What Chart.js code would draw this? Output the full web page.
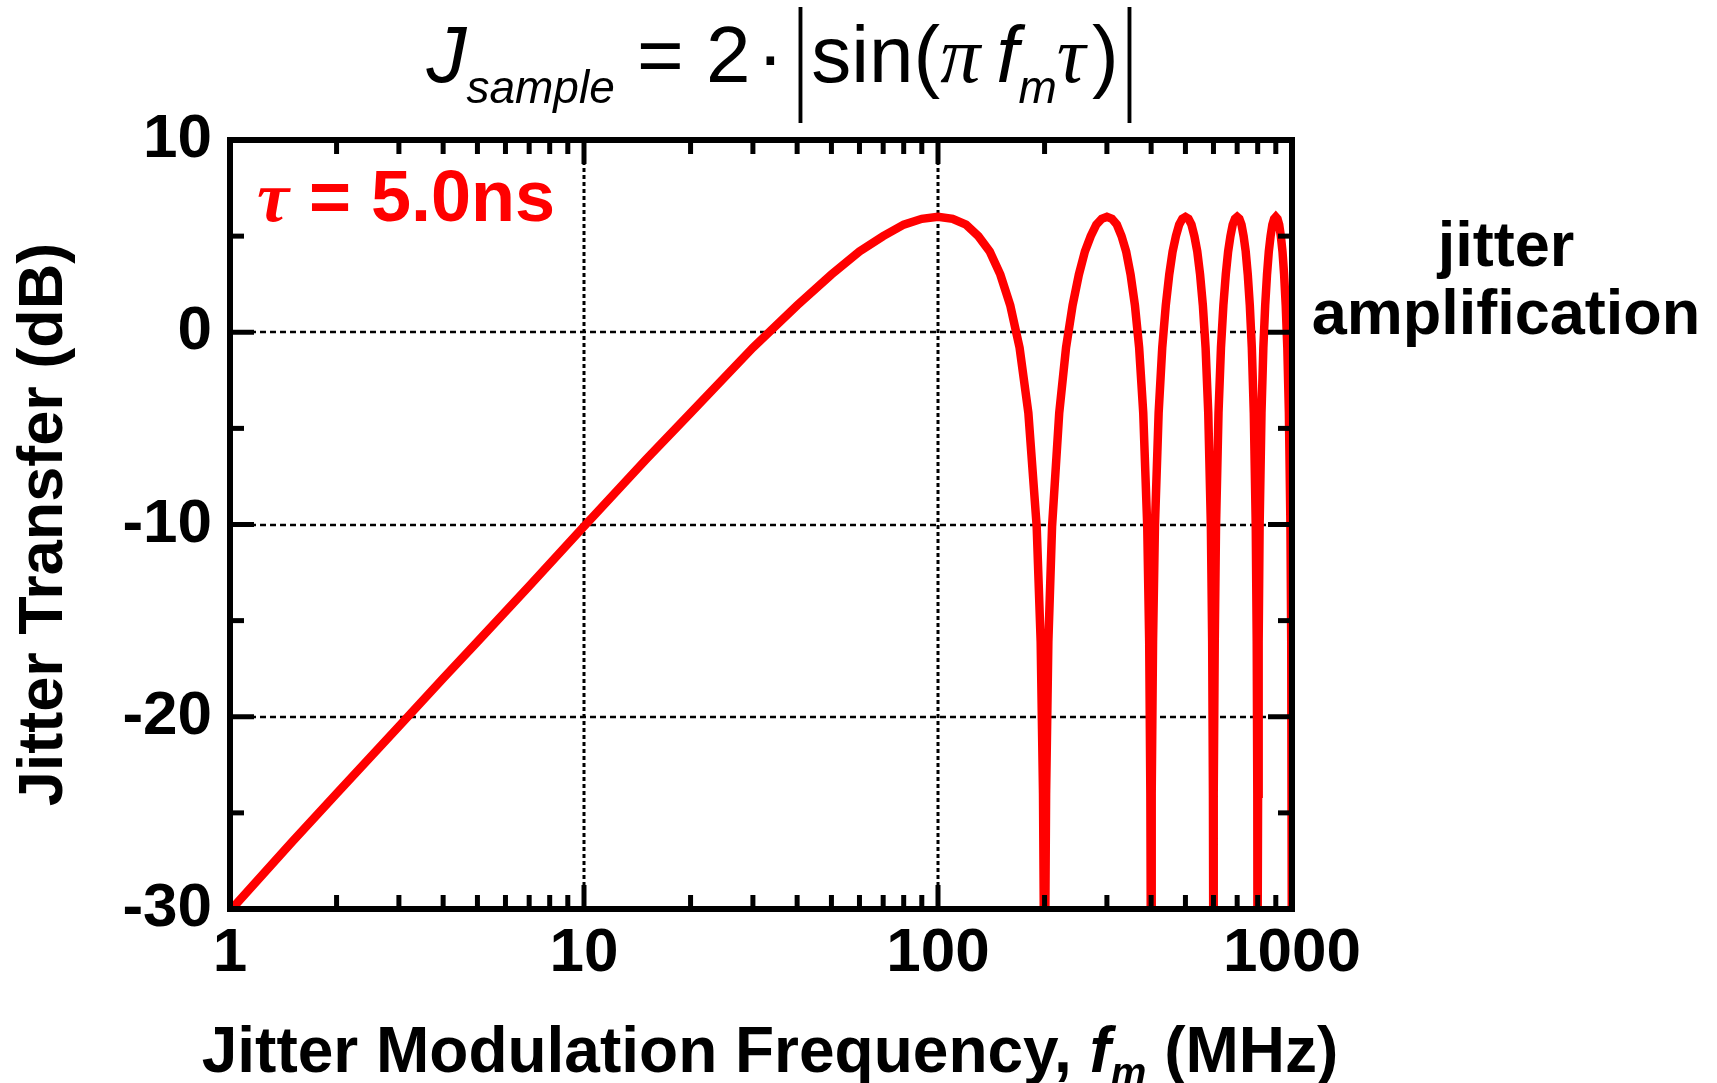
<!DOCTYPE html>
<html>
<head>
<meta charset="utf-8">
<script src="https://cdn.jsdelivr.net/npm/chart.js@4.4.1/dist/chart.umd.min.js"></script>
<style>
  body { margin: 0; background: #fff; }
  #wrap { position: relative; width: 1717px; height: 1083px; font-family: "Liberation Sans", Arial, sans-serif; }
  #c { position: absolute; left: 0; top: 0; }
  .lbl { position: absolute; white-space: nowrap; line-height: 1; }
  .greek { font-family: "Liberation Serif", "Times New Roman", serif; font-style: italic; }
  #formula { left: 0; width: 1566px; text-align: center; top: 15px; font-size: 80px; }
  #formula sub { font-size: 46px; font-style: italic; vertical-align: -0.45em; }
  .bar { display: inline-block; transform: scale(0.6, 1.55); }
  #xtitle { left: 0; width: 1540px; text-align: center; top: 1018px; font-size: 64px; font-weight: bold; }
  #xtitle sub { font-size: 40px; font-style: italic; vertical-align: -0.35em; }
  #tau { left: 257px; top: 160px; font-size: 72px; font-weight: bold; color: #ff0000; }
  #amp { left: 1306px; width: 400px; text-align: center; top: 210px; font-size: 63px; font-weight: bold; line-height: 68px; }
</style>
</head>
<body>
<div id="wrap">
  <canvas id="c" width="1717" height="1083"></canvas>
  <div class="lbl" id="formula"><i>J</i><sub>sample</sub> = 2&#8202;·&#8202;<span class="bar">|</span>sin(<span class="greek">π</span>&#8201;<i>f</i><sub>m</sub><span class="greek">τ</span>&#8202;)<span class="bar">|</span></div>
  <div class="lbl" id="tau"><span class="greek">τ</span> = 5.0ns</div>
  <div class="lbl" id="amp">jitter<br>amplification</div>
  <div class="lbl" id="xtitle">Jitter Modulation Frequency, <i>f</i><sub>m</sub> (MHz)</div>
</div>
<script>
// jitter transfer, tau = 5.0 ns
let freqMHz = [
  1, 1.5, 2, 3, 4, 5, 7, 10, 15, 20, 30, 40, 50, 60, 70, 80, 90, 100,
  110, 120, 130, 140, 150, 160, 170, 180, 190, 195, 198, 199, 200,
  201, 202, 205, 210, 220, 230, 240, 250, 260, 270, 280, 290, 300,
  310, 320, 330, 340, 350, 360, 370, 380, 390, 395, 398, 399, 400,
  401, 402, 405, 410, 420, 430, 440, 450, 460, 470, 480, 490, 500,
  510, 520, 530, 540, 550, 560, 570, 580, 590, 595, 598, 599, 600,
  601, 602, 605, 610, 620, 630, 640, 650, 660, 670, 680, 690, 700,
  710, 720, 730, 740, 750, 760, 770, 780, 790, 795, 798, 799, 800,
  801, 802, 805, 810, 820, 830, 840, 850, 860, 870, 880, 890, 900,
  910, 920, 930, 940, 950, 960, 970, 980, 990, 995, 998, 999, 1000
];
let transferDb = [
  -30.1, -26.5, -24.0, -20.5, -18.0, -16.1, -13.2, -10.1, -6.6, -4.2, -0.8, 1.4, 3.0, 4.2, 5.0, 5.6, 5.9, 6.0,
  5.9, 5.6, 5.0, 4.2, 3.0, 1.4, -0.8, -4.2, -10.1, -16.1, -24.0, -30.1, -45,
  -30.1, -24.0, -16.1, -10.1, -4.2, -0.8, 1.4, 3.0, 4.2, 5.0, 5.6, 5.9, 6.0,
  5.9, 5.6, 5.0, 4.2, 3.0, 1.4, -0.8, -4.2, -10.1, -16.1, -24.0, -30.1, -45,
  -30.1, -24.0, -16.1, -10.1, -4.2, -0.8, 1.4, 3.0, 4.2, 5.0, 5.6, 5.9, 6.0,
  5.9, 5.6, 5.0, 4.2, 3.0, 1.4, -0.8, -4.2, -10.1, -16.1, -24.0, -30.1, -45,
  -30.1, -24.0, -16.1, -10.1, -4.2, -0.8, 1.4, 3.0, 4.2, 5.0, 5.6, 5.9, 6.0,
  5.9, 5.6, 5.0, 4.2, 3.0, 1.4, -0.8, -4.2, -10.1, -16.1, -24.0, -30.1, -45,
  -30.1, -24.0, -16.1, -10.1, -4.2, -0.8, 1.4, 3.0, 4.2, 5.0, 5.6, 5.9, 6.0,
  5.9, 5.6, 5.0, 4.2, 3.0, 1.4, -0.8, -4.2, -10.1, -16.1, -24.0, -30.1, -45
];

let xTickLabels = [1, 10, 100, 1000];
let yTickLabels = [10, 0, -10, -20, -30];
let xMinorTicks = [2, 3, 4, 5, 6, 7, 8, 9, 20, 30, 40, 50, 60, 70, 80, 90, 200, 300, 400, 500, 600, 700, 800, 900];
let xMajorTicks = [10, 100];
let yMinorTicks = [5, -5, -15, -25];
let yMajorTicks = [0, -10, -20];

let tickFont = { family: "Liberation Sans, Arial, sans-serif", size: 62, weight: "bold" };

// frame, inside ticks and the dashed grid
let framePlugin = {
  id: "frame",
  beforeDatasetsDraw(chart) {
    let ctx = chart.ctx;
    let a = chart.chartArea;
    let xs = chart.scales.x;
    let ys = chart.scales.y;
    ctx.save();
    ctx.strokeStyle = "#000";
    ctx.lineWidth = 2.5;
    ctx.setLineDash([6, 4]);
    yMajorTicks.forEach((v) => {
      let y = Math.round(ys.getPixelForValue(v));
      ctx.beginPath();
      ctx.moveTo(a.left, y);
      ctx.lineTo(a.right, y);
      ctx.stroke();
    });
    ctx.lineWidth = 3;
    ctx.setLineDash([4, 3]);
    xMajorTicks.forEach((v) => {
      let x = Math.round(xs.getPixelForValue(v));
      ctx.beginPath();
      ctx.moveTo(x, a.top);
      ctx.lineTo(x, a.bottom);
      ctx.stroke();
    });
    ctx.restore();
  },
  afterDatasetsDraw(chart) {
    let ctx = chart.ctx;
    let a = chart.chartArea;
    let xs = chart.scales.x;
    let ys = chart.scales.y;
    ctx.save();
    ctx.strokeStyle = "#000";
    ctx.lineWidth = 5;
    ctx.setLineDash([]);
    let tick = (x1, y1, x2, y2) => {
      ctx.beginPath();
      ctx.moveTo(x1, y1);
      ctx.lineTo(x2, y2);
      ctx.stroke();
    };
    xMinorTicks.forEach((v) => {
      let x = xs.getPixelForValue(v);
      tick(x, a.bottom, x, a.bottom - 14);
      tick(x, a.top, x, a.top + 14);
    });
    xMajorTicks.forEach((v) => {
      let x = xs.getPixelForValue(v);
      tick(x, a.bottom, x, a.bottom - 24);
      tick(x, a.top, x, a.top + 24);
    });
    yMinorTicks.forEach((v) => {
      let y = ys.getPixelForValue(v);
      tick(a.left, y, a.left + 14, y);
      tick(a.right, y, a.right - 14, y);
    });
    yMajorTicks.forEach((v) => {
      let y = ys.getPixelForValue(v);
      tick(a.left, y, a.left + 24, y);
      tick(a.right, y, a.right - 24, y);
    });
    ctx.lineWidth = 6;
    ctx.strokeRect(a.left, a.top, a.right - a.left, a.bottom - a.top);
    ctx.restore();
  },
};

let ctx = document.getElementById("c").getContext("2d");
new Chart(ctx, {
  type: "line",
  data: {
    datasets: [
      {
        data: freqMHz.map((f, i) => ({ x: f, y: transferDb[i] })),
        borderColor: "#ff0000",
        borderWidth: 8.5,
        pointRadius: 0,
        tension: 0,
        fill: false,
      },
    ],
  },
  options: {
    responsive: false,
    animation: false,
    devicePixelRatio: 1,
    layout: { padding: { top: 140, right: 425, bottom: 0, left: 0 } },
    plugins: { legend: { display: false }, tooltip: { enabled: false } },
    scales: {
      x: {
        type: "logarithmic",
        min: 1,
        max: 1000,
        afterBuildTicks: (s) => {
          s.ticks = xTickLabels.map((v) => ({ value: v }));
        },
        afterFit: (s) => {
          s.height = 174;
        },
        grid: { display: false, drawTicks: false },
        border: { display: false },
        ticks: {
          font: tickFont,
          color: "#000",
          padding: 8,
          maxRotation: 0,
          autoSkip: false,
          callback: (v) => String(v),
        },
      },
      y: {
        min: -30,
        max: 10,
        afterBuildTicks: (s) => {
          s.ticks = yTickLabels.map((v) => ({ value: v }));
        },
        afterFit: (s) => {
          s.width = 230;
        },
        grid: { display: false, drawTicks: false },
        border: { display: false },
        ticks: {
          font: tickFont,
          color: "#000",
          padding: 18,
          autoSkip: false,
        },
        title: {
          display: true,
          text: "Jitter Transfer (dB)",
          color: "#000",
          font: { family: "Liberation Sans, Arial, sans-serif", size: 63, weight: "bold", lineHeight: 1.2 },
          padding: { top: 7, bottom: 0 },
        },
      },
    },
  },
  plugins: [framePlugin],
});
</script>
</body>
</html>
